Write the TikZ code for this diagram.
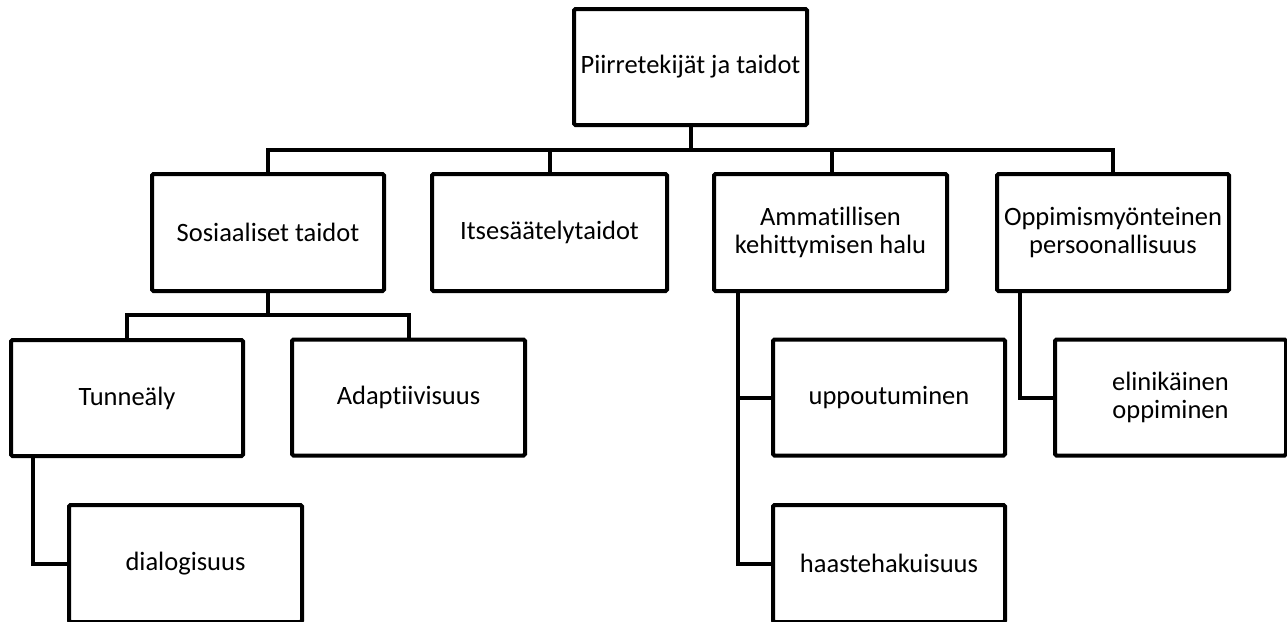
\documentclass[tikz,border=0pt]{standalone}
\usepackage{fontspec}
\setmainfont{Carlito}[Ligatures=NoCommon]
\begin{document}
\begin{tikzpicture}[x=1pt, y=-1pt,
  box/.style={draw, line width=4pt, rounded corners=1.5pt, fill=white,
    minimum width=232pt, minimum height=116pt, inner sep=0pt,
    align=center, font=\fontsize{26.5}{28.5}\selectfont},
  link/.style={line width=4pt}]
  \useasboundingbox (0,0) rectangle (1287,621);
  \clip (0,0) rectangle (1287,621);

  % top level
  \node[box, minimum width=233pt] (root) at (690.5,67) {Piirretekijät ja taidot};

  % second level
  \node[box, minimum height=117pt] (soc) at (268,232.5) {Sosiaaliset taidot};
  \node[box, minimum height=117pt, minimum width=235pt] (its) at (549.5,232.5) {Itsesäätelytaidot};
  \node[box, minimum height=117pt, minimum width=233pt] (amm) at (830.5,232.5) {Ammatillisen\\kehittymisen halu};
  \node[box, minimum height=117pt] (opp) at (1113,232.5) {Oppimismyönteinen\\persoonallisuus};

  % third level
  \node[box] (tun) at (127,398) {Tunneäly};
  \node[box, minimum width=233pt] (ada) at (408.5,397.5) {Adaptiivisuus};
  \node[box] (upp) at (889,397.5) {uppoutuminen};
  \node[box, minimum width=231pt] (eli) at (1170.5,397.5) {elinikäinen\\oppiminen};

  % fourth level
  \node[box, minimum width=233pt, minimum height=117pt] (dia) at (185.5,563.5) {dialogisuus};
  \node[box, minimum height=117pt] (haa) at (889,563.5) {haastehakuisuus};

  % bus lines
  \coordinate (bus) at (690.5,150);
  \coordinate (socbus) at (268,315);
  \coordinate (tuntrunk) at (33,456);
  \coordinate (ammtrunk) at (738,291);
  \coordinate (opptrunk) at (1020,291);

  \draw[link] (root.south) -- (bus);
  \draw[link] (soc.north) -- (soc.north |- bus) -- (opp.north |- bus) -- (opp.north);
  \draw[link] (its.north) -- (its.north |- bus);
  \draw[link] ([xshift=1.5pt]amm.north) -- ([xshift=1.5pt]amm.north |- bus);

  \draw[link] (soc.south) -- (socbus);
  \draw[link] (tun.north) -- (tun.north |- socbus) -- (ada.north |- socbus) -- (ada.north);

  \draw[link] (tuntrunk) |- (dia.west);
  \draw[link] (ammtrunk) |- (haa.west);
  \draw[link] (upp.west) -- (upp.west -| ammtrunk);
  \draw[link] (opptrunk) |- (eli.west);
\end{tikzpicture}
\end{document}
